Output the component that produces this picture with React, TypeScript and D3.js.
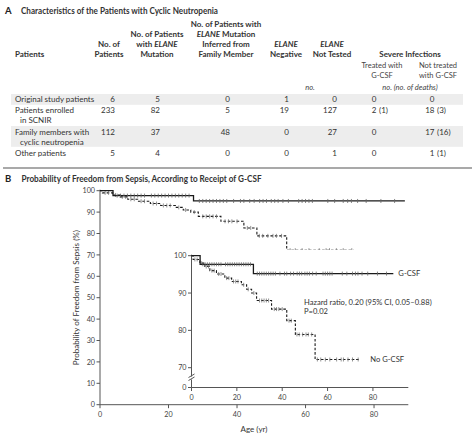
import React from "react";
import * as d3 from "d3";

const FONT = "Lato, 'Open Sans', sans-serif";

// ---------- Panel A data ----------
const rowLabels = [["Original study patients"], ["Patients enrolled", "in SCNIR"], ["Family members with", "cyclic neutropenia"], ["Other patients"]];
const nPatients = ["6", "233", "112", "5"];
const nElane = ["5", "82", "37", "4"];
const nInferred = ["0", "5", "48", "0"];
const nNegative = ["1", "19", "0", "0"];
const nNotTested = ["0", "127", "27", "1"];
const infTreated = ["0", "2 (1)", "0", "0"];
const infNotTreated = ["0", "18 (3)", "17 (16)", "1 (1)"];

// ---------- Panel B data ----------
const gcsfAges = [0, 3.8, 27.3];
const gcsfSurv = [100, 97.7, 95.2];
const gcsfEnd = 89;
const gcsfCensor = [5, 6, 7, 8, 9, 10, 11, 12, 13, 15, 16, 17, 18, 19, 20, 21, 22, 23, 24, 25, 26, 29, 30, 31, 32, 33, 34, 35, 36, 37, 39, 41, 42, 43.7, 45, 46.6, 47.6, 48.6, 50, 51, 52, 53.4, 55, 58, 59, 60, 61, 62, 66.5, 68.5, 71, 72.3, 73.4, 75.2, 77.7, 82, 86];

const noAges = [0, 0.7, 3.7, 5.9, 8.1, 11, 14.7, 17.7, 22, 24.3, 26.5, 28.7, 35.3, 42, 45.8, 54.5];
const noSurv = [100, 99, 98, 97.1, 96, 95.1, 94, 93.1, 92.2, 91, 90, 88, 85.7, 82.6, 78.9, 72.2];
const noEnd = 74;
const noCensor = [1.5, 2.5, 4.5, 6.5, 7.5, 9, 10, 12, 13, 15.5, 16.5, 18.5, 19.5, 20.5, 23, 25, 27.5, 30, 31, 32, 33, 34, 36.5, 37.5, 38.5, 40, 43, 44, 46.5, 47.5, 49, 50.5, 51.5, 53, 55.5, 57, 59, 61, 64, 66, 67, 69, 71, 73.5];

const mainYTicks = [0, 10, 20, 30, 40, 50, 60, 70, 80, 90, 100];
const xTicks = [0, 20, 40, 60, 80];
const insetYTicks = [70, 80, 90, 100];

function stepAt(ages: number[], surv: number[], t: number) {
  let v = surv[0];
  for (let i = 0; i < ages.length; i++) if (ages[i] <= t) v = surv[i];
  return v;
}

function Rich({ s }: { s: string }) {
  const parts = s.split("*");
  return (
    <>
      {parts.map((p, i) => (
        <tspan key={i} fontStyle={i % 2 === 1 ? "italic" : "normal"}>{p}</tspan>
      ))}
    </>
  );
}

const headerCols = [
  { x: 109, lines: ["No. of", "Patients"] },
  { x: 157, lines: ["No. of Patients", "with *ELANE*", "Mutation"] },
  { x: 226, lines: ["No. of Patients with", "*ELANE* Mutation", "Inferred from", "Family Member"] },
  { x: 286, lines: ["*ELANE*", "Negative"] },
  { x: 332, lines: ["*ELANE*", "Not Tested"] },
];

function KM({ x, y, ages, surv, end, censor, dashed, censorColor }: any) {
  const pts: [number, number][] = ages.map((a: number, i: number) => [a, surv[i]]);
  pts.push([end, surv[surv.length - 1]]);
  const line = d3.line<[number, number]>().x((d) => x(d[0])).y((d) => y(d[1])).curve(d3.curveStepAfter);
  return (
    <g>
      <path d={line(pts) || ""} fill="none" stroke="#1a1a1a" strokeWidth={dashed ? 1.1 : 1.3} strokeDasharray={dashed ? "2.6,1.8" : undefined} />
      {censor.filter((c: number) => c <= end).map((c: number, i: number) => {
        const v = stepAt(ages, surv, c);
        return <line key={i} x1={x(c)} x2={x(c)} y1={y(v) - 2} y2={y(v) + 2} stroke={censorColor} strokeWidth={0.8} />;
      })}
    </g>
  );
}

export default function App() {
  const fs = 8;
  // table columns
  const colRight = [115, 160, 230, 289, 337];
  const numCols = [nPatients, nElane, nInferred, nNegative, nNotTested];
  const rowBase = [[102], [113, 123], [135, 145], [156]];

  // main chart
  const x = d3.scaleLinear().domain([0, 90]).range([100, 408.3]);
  const y = d3.scaleLinear().domain([0, 100]).range([404.7, 190.7]);
  // inset
  const xi = d3.scaleLinear().domain([0, 95.6]).range([191.5, 408.3]);
  const yi = d3.scaleLinear().domain([70, 100]).range([367.7, 255.7]);
  const insetZeroY = 387.5;
  const axisColor = "#555";

  const splitCell = (s: string) => {
    const m = s.split(" ");
    return [m[0], m.slice(1).join(" ")];
  };

  return (
    <svg width={474} height={445} style={{ position: "absolute", left: 0, top: 0, background: "#fff" }} fontFamily={FONT}>
      <rect width={474} height={445} fill="#fff" />
      {/* Panel A */}
      <text x={5} y={13.5} fontSize={9.5} fontWeight={700} fill="#222">A</text>
      <text x={21} y={13.5} fontSize={8.6} fontWeight={700} fill="#333" textLength={197} lengthAdjust="spacingAndGlyphs">Characteristics of the Patients with Cyclic Neutropenia</text>

      {/* row shading */}
      <rect x={11} y={94} width={452} height={10.8} fill="#ededed" />
      <rect x={11} y={126} width={452} height={20.8} fill="#ededed" />

      {/* headers */}
      <g fontSize={fs} fontWeight={700} fill="#333" textAnchor="middle">
        <text x={15} y={57} textAnchor="start">Patients</text>
        {headerCols.map((h, i) =>
          h.lines.map((l, j) => (
            <text key={i + "-" + j} x={h.x} y={57 - (h.lines.length - 1 - j) * 10}>
              <Rich s={l} />
            </text>
          ))
        )}
        <text x={410} y={57}>Severe Infections</text>
      </g>
      <g fontSize={fs - 0.5} fill="#444" textAnchor="middle">
        <text x={382} y={68}>Treated with</text>
        <text x={382} y={78}>G-CSF</text>
        <text x={438} y={68}>Not treated</text>
        <text x={438} y={78}>with G-CSF</text>
        <text x={310} y={90} fontStyle="italic">no.</text>
        <text x={410} y={90} fontStyle="italic">no. (no. of deaths)</text>
      </g>

      {/* rows */}
      <g fontSize={fs} fill="#333">
        {rowLabels.map((lines, r) =>
          lines.map((l, j) => (
            <text key={r + "-" + j} x={j === 0 ? 15 : 20} y={rowBase[r][j]}>{l}</text>
          ))
        )}
        {numCols.map((col, c) =>
          col.map((v, r) => (
            <text key={c + "-" + r} x={colRight[c]} y={rowBase[r][0]} textAnchor="end">{v}</text>
          ))
        )}
        {[infTreated, infNotTreated].map((col, c) =>
          col.map((v, r) => {
            const [a, b] = splitCell(v);
            const xr = c === 0 ? 376.5 : 434.5;
            return (
              <g key={"i" + c + "-" + r}>
                <text x={xr} y={rowBase[r][0]} textAnchor="end">{a}</text>
                {b && <text x={xr + 2.5} y={rowBase[r][0]}>{b}</text>}
              </g>
            );
          })
        )}
      </g>

      {/* divider */}
      <line x1={3} x2={472} y1={168} y2={168} stroke="#555" strokeWidth={1.2} />

      {/* Panel B */}
      <text x={5} y={181.5} fontSize={9.5} fontWeight={700} fill="#222">B</text>
      <text x={21.5} y={181.5} fontSize={8.6} fontWeight={700} fill="#333" textLength={240} lengthAdjust="spacingAndGlyphs">Probability of Freedom from Sepsis, According to Receipt of G-CSF</text>

      {/* main axes */}
      <g stroke={axisColor} strokeWidth={1}>
        <line x1={x(0)} x2={x(0)} y1={y(100) - 1} y2={y(0)} />
        <line x1={x(0)} x2={x(90)} y1={y(0)} y2={y(0)} />
        {mainYTicks.map((t) => (
          <line key={t} x1={x(0) - 3.5} x2={x(0)} y1={y(t)} y2={y(t)} />
        ))}
        {xTicks.map((t) => (
          <line key={t} x1={x(t)} x2={x(t)} y1={y(0)} y2={y(0) + 3.5} />
        ))}
      </g>
      <g fontSize={7.2} fill="#444">
        {mainYTicks.map((t) => (
          <text key={t} x={x(0) - 5} y={y(t) + 2.6} textAnchor="end">{t}</text>
        ))}
        {xTicks.map((t) => (
          <text key={t} x={x(t)} y={y(0) + 12.5} textAnchor="middle">{t}</text>
        ))}
      </g>
      <text x={254} y={431.5} fontSize={8} fill="#333" textAnchor="middle">Age (yr)</text>
      <text transform={`translate(79,297.7) rotate(-90)`} fontSize={8} fill="#333" textAnchor="middle">Probability of Freedom from Sepsis (%)</text>

      <KM x={x} y={y} ages={noAges} surv={noSurv} end={noEnd} censor={noCensor} dashed censorColor="#777" />
      <KM x={x} y={y} ages={gcsfAges} surv={gcsfSurv} end={gcsfEnd} censor={gcsfCensor} censorColor="#666" />

      {/* inset */}
      <rect x={xi(0) + 0.5} y={250} width={220} height={insetZeroY - 250 - 0.5} fill="#fff" />
      <g stroke={axisColor} strokeWidth={1}>
        <line x1={xi(0)} x2={xi(0)} y1={yi(100) - 1} y2={376.5} />
        <line x1={xi(0)} x2={xi(0)} y1={379.5} y2={insetZeroY} />
        <line x1={xi(0) - 3} x2={xi(0) + 3} y1={377.5} y2={374} />
        <line x1={xi(0) - 3} x2={xi(0) + 3} y1={380.5} y2={377} />
        <line x1={xi(0)} x2={xi(95.6)} y1={insetZeroY} y2={insetZeroY} />
        {insetYTicks.map((t) => (
          <line key={t} x1={xi(0) - 3.5} x2={xi(0)} y1={yi(t)} y2={yi(t)} />
        ))}
        <line x1={xi(0) - 3.5} x2={xi(0)} y1={insetZeroY} y2={insetZeroY} />
        {xTicks.map((t) => (
          <line key={t} x1={xi(t)} x2={xi(t)} y1={insetZeroY} y2={insetZeroY + 3.5} />
        ))}
      </g>
      <g fontSize={7.2} fill="#444">
        {insetYTicks.map((t) => (
          <text key={t} x={xi(0) - 5} y={yi(t) + 2.6} textAnchor="end">{t}</text>
        ))}
        <text x={xi(0) - 5} y={insetZeroY + 2.6} textAnchor="end">0</text>
        {xTicks.map((t) => (
          <text key={t} x={xi(t)} y={insetZeroY + 12} textAnchor="middle">{t}</text>
        ))}
      </g>
      <KM x={xi} y={yi} ages={noAges} surv={noSurv} end={noEnd} censor={noCensor} dashed censorColor="#777" />
      <KM x={xi} y={yi} ages={gcsfAges} surv={gcsfSurv} end={gcsfEnd} censor={gcsfCensor} censorColor="#666" />
      <g fontSize={7.6} fill="#333">
        <text x={xi(gcsfEnd) + 5} y={yi(gcsfSurv[gcsfSurv.length - 1]) + 2.8}>G-CSF</text>
        <text x={xi(noEnd) + 11} y={yi(noSurv[noSurv.length - 1]) + 2.8}>No G-CSF</text>
        <text x={304} y={304.5}>Hazard ratio, 0.20 (95% CI, 0.05–0.88)</text>
        <text x={304} y={313.8}>P=0.02</text>
      </g>
    </svg>
  );
}
